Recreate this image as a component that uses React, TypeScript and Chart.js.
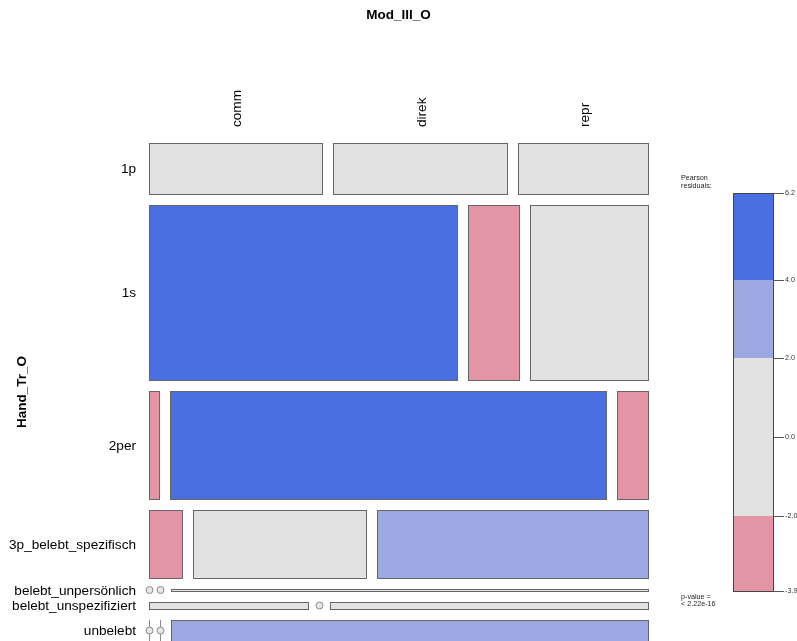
import React, { useEffect, useRef } from "react";
import { Chart, registerables } from "chart.js";

Chart.register(...registerables);

// ---------- data ----------
const TITLE = "Mod_III_O";
const ROW_VAR = "Hand_Tr_O";
const ROWS = [
  "1p",
  "1s",
  "2per",
  "3p_belebt_spezifisch",
  "belebt_unpersönlich",
  "belebt_unspezifiziert",
  "unbelebt",
];
const COLS = ["comm", "direk", "repr"];
// counts per column (one value per row)
const COUNT_COMM = [16, 97, 2, 4, 0, 2, 0];
const COUNT_DIREK = [16, 16, 85, 21, 0, 0, 0];
const COUNT_REPR = [12, 37, 6, 33, 2, 4, 18];
// Pearson residuals per column (one value per row)
const RES_COMM = [0.4, 6.2, -3.9, -2.6, -0.8, 0.0, -2.0];
const RES_DIREK = [-0.1, -3.6, 5.8, 0.1, -0.9, -1.5, -2.2];
const RES_REPR = [-0.3, -1.1, -3.0, 2.6, 1.8, 1.6, 3.5];
const SHADE_BREAKS = [2, 4];
const LEGEND_TITLE = ["Pearson", "residuals:"];
const P_VALUE_TEXT = ["p-value =", "< 2.22e-16"];

// ---------- styles / layout ----------
const W = 797;
const H = 641;
const SPACING = 0.022; // gap between tiles, in mosaic units
const FONT = '"Liberation Sans", Arial, sans-serif';
const C_POS_HI = "#4A6FE3";
const C_POS_LO = "#9DA8E2";
const C_NEUTRAL = "#E2E2E2";
const C_NEG_LO = "#E495A5";
const C_NEG_HI = "#D33F6A";
const C_BORDER = "#666666";

function shade(r: number): string {
  if (r > SHADE_BREAKS[1]) return C_POS_HI;
  if (r > SHADE_BREAKS[0]) return C_POS_LO;
  if (r < -SHADE_BREAKS[1]) return C_NEG_HI;
  if (r < -SHADE_BREAKS[0]) return C_NEG_LO;
  return C_NEUTRAL;
}

const COUNTS = ROWS.map((_, i) => [COUNT_COMM[i], COUNT_DIREK[i], COUNT_REPR[i]]);
const RESID = ROWS.map((_, i) => [RES_COMM[i], RES_DIREK[i], RES_REPR[i]]);
const ALL_RES = [...RES_COMM, ...RES_DIREK, ...RES_REPR];
const RES_MIN = Math.min(...ALL_RES);
const RES_MAX = Math.max(...ALL_RES);
const RES_PAD = (RES_MAX - RES_MIN) * 0.125; // legend bar covers 80% of the mosaic height

type Cell = { x0: number; x1: number; y0: number; y1: number; c: number; r: number };

function layoutCells(): { cells: Cell[]; rowsY: { y0: number; y1: number }[] } {
  const N = COUNTS.reduce((s, row) => s + row.reduce((a, b) => a + b, 0), 0);
  const availY = 1 - (ROWS.length - 1) * SPACING;
  const availX = 1 - (COLS.length - 1) * SPACING;
  const cells: Cell[] = [];
  const rowsY: { y0: number; y1: number }[] = [];
  let yCur = 0;
  COUNTS.forEach((row, i) => {
    const rt = row.reduce((a, b) => a + b, 0);
    const h = (rt / N) * availY;
    let xCur = 0;
    row.forEach((c, j) => {
      const w = (c / rt) * availX;
      cells.push({ x0: xCur, x1: xCur + w, y0: yCur, y1: yCur + h, c, r: RESID[i][j] });
      xCur += w + SPACING;
    });
    rowsY.push({ y0: yCur, y1: yCur + h });
    yCur += h + SPACING;
  });
  return { cells, rowsY };
}

const mosaicPlugin = {
  id: "mosaic",
  afterDraw(chart: any) {
    const ctx: CanvasRenderingContext2D = chart.ctx;
    const xs = chart.scales.x;
    const ys = chart.scales.y;
    const rs = chart.scales.yRes;
    const area = chart.chartArea;
    const { cells, rowsY } = layoutCells();
    ctx.save();

    // tiles
    cells.forEach((cell) => {
      const px0 = Math.round(xs.getPixelForValue(cell.x0));
      const px1 = Math.round(xs.getPixelForValue(cell.x1));
      const py0 = Math.round(ys.getPixelForValue(cell.y0));
      const py1 = Math.round(ys.getPixelForValue(cell.y1));
      if (cell.c > 0) {
        ctx.fillStyle = shade(cell.r);
        ctx.fillRect(px0, py0, px1 - px0, py1 - py0);
        ctx.strokeStyle = C_BORDER;
        ctx.lineWidth = 1;
        ctx.strokeRect(px0 + 0.5, py0 + 0.5, px1 - px0, py1 - py0);
      } else {
        const cy = (py0 + py1) / 2;
        ctx.strokeStyle = "#8a8a8a";
        ctx.lineWidth = 1;
        ctx.beginPath();
        ctx.moveTo(px0 + 0.5, py0);
        ctx.lineTo(px0 + 0.5, py1);
        ctx.stroke();
        ctx.beginPath();
        ctx.arc(px0 + 0.5, cy, 3.5, 0, Math.PI * 2);
        ctx.fillStyle = "#E6E6E6";
        ctx.fill();
        ctx.stroke();
      }
    });

    // title
    ctx.fillStyle = "#000";
    ctx.font = `bold 13.5px ${FONT}`;
    ctx.textAlign = "center";
    ctx.textBaseline = "middle";
    ctx.fillText(TITLE, chart.width / 2, 15);

    // row variable name
    ctx.save();
    ctx.translate(22, ys.getPixelForValue(0.5));
    ctx.rotate(-Math.PI / 2);
    ctx.fillText(ROW_VAR, 0, 0);
    ctx.restore();

    // row labels
    ctx.font = `13.6px ${FONT}`;
    ctx.textAlign = "right";
    ctx.textBaseline = "middle";
    ROWS.forEach((lab, i) => {
      const cy = (ys.getPixelForValue(rowsY[i].y0) + ys.getPixelForValue(rowsY[i].y1)) / 2;
      ctx.fillText(lab, xs.getPixelForValue(0) - 13, cy + 1);
    });

    // column labels (above first row)
    COLS.forEach((lab, j) => {
      const cell = cells[j];
      const cx = (xs.getPixelForValue(cell.x0) + xs.getPixelForValue(cell.x1)) / 2;
      ctx.save();
      ctx.translate(cx + 2, ys.getPixelForValue(0) - 16);
      ctx.rotate(-Math.PI / 2);
      ctx.textAlign = "left";
      ctx.textBaseline = "middle";
      ctx.fillText(lab, 0, 0);
      ctx.restore();
    });

    // legend
    const barL = area.right + 85;
    const barR = barL + 40;
    const ticks = [RES_MIN, -SHADE_BREAKS[1], -SHADE_BREAKS[0], 0, SHADE_BREAKS[0], SHADE_BREAKS[1], RES_MAX]
      .filter((v) => v >= RES_MIN && v <= RES_MAX)
      .filter((v, i, a) => a.indexOf(v) === i)
      .sort((a, b) => a - b);
    for (let k = 0; k < ticks.length - 1; k++) {
      const yTop = Math.round(rs.getPixelForValue(ticks[k + 1]));
      const yBot = Math.round(rs.getPixelForValue(ticks[k]));
      ctx.fillStyle = shade((ticks[k] + ticks[k + 1]) / 2);
      ctx.fillRect(barL, yTop, barR - barL, yBot - yTop);
    }
    const barTop = Math.round(rs.getPixelForValue(RES_MAX));
    const barBot = Math.round(rs.getPixelForValue(RES_MIN));
    ctx.strokeStyle = "#444";
    ctx.lineWidth = 1;
    ctx.strokeRect(barL + 0.5, barTop + 0.5, barR - barL, barBot - barTop);
    ctx.font = `7.2px ${FONT}`;
    ctx.textAlign = "left";
    ctx.textBaseline = "middle";
    ticks.forEach((v) => {
      const py = Math.round(rs.getPixelForValue(v)) + 0.5;
      ctx.strokeStyle = "#555";
      ctx.beginPath();
      ctx.moveTo(barR, py);
      ctx.lineTo(barR + 11, py);
      ctx.stroke();
      ctx.fillStyle = "#333";
      ctx.fillText(v.toFixed(1), barR + 12, py);
    });
    ctx.fillStyle = "#222";
    const tx = area.right + 33;
    ctx.fillText(LEGEND_TITLE[0], tx, barTop - 15);
    ctx.fillText(LEGEND_TITLE[1], tx, barTop - 7);
    ctx.fillText(P_VALUE_TEXT[0], tx, barBot + 6);
    ctx.fillText(P_VALUE_TEXT[1], tx, barBot + 13);

    ctx.restore();
  },
};

export default function App() {
  const ref = useRef<HTMLCanvasElement>(null);
  useEffect(() => {
    const canvas = ref.current;
    if (!canvas) return;
    const chart = new Chart(canvas, {
      type: "scatter",
      data: { datasets: [{ data: [] }] },
      options: {
        animation: false,
        responsive: false,
        devicePixelRatio: 1,
        layout: { padding: { left: 149, right: W - 648, top: 143, bottom: 0 } },
        scales: {
          x: { type: "linear", min: 0, max: 1, display: false },
          y: { type: "linear", min: 0, max: 1, reverse: true, display: false },
          yRes: {
            type: "linear",
            axis: "y",
            min: RES_MIN - RES_PAD,
            max: RES_MAX + RES_PAD,
            display: false,
          },
        },
        plugins: {
          legend: { display: false },
          tooltip: { enabled: false },
          title: { display: false },
        },
      } as any,
      plugins: [mosaicPlugin as any],
    });
    return () => chart.destroy();
  }, []);
  return (
    <div style={{ position: "absolute", left: 0, top: 0, width: W, height: H, background: "#fff" }}>
      <canvas ref={ref} width={W} height={H} style={{ display: "block", width: W, height: H }} />
    </div>
  );
}
